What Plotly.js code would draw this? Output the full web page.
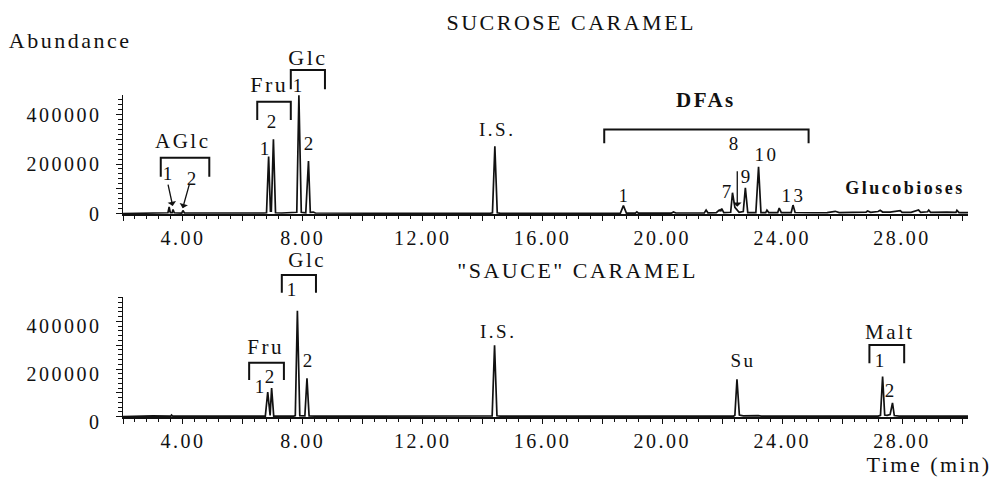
<!DOCTYPE html>
<html>
<head>
<meta charset="utf-8">
<script src="https://cdn.plot.ly/plotly-3.0.1.min.js"></script>
<style>
  html, body { margin: 0; padding: 0; background: #fff; }
</style>
</head>
<body>
<div id="chart" style="width:997px;height:477px;"></div>
<script>
// ---- DATA ----
// Sucrose caramel chromatogram: retention time (min) and abundance
const sucroseTime = [
  2.0, 3.0, 3.3, 3.45, 3.50, 3.54, 3.58, 3.64, 3.67, 3.71, 3.85, 3.96, 4.00, 4.05, 4.5, 5.0, 6.0,
  6.7, 6.79, 6.86, 6.92, 6.95, 7.02, 7.09, 7.3, 7.75, 7.80, 7.87, 7.95, 8.1, 8.19, 8.25, 8.35, 8.42,
  9.0, 10.0, 12.0, 14.25, 14.33, 14.41, 14.49, 14.6, 16.0, 18.0, 18.6, 18.7, 18.8, 19.1, 19.15, 19.2,
  20.3, 20.37, 20.45, 21.4, 21.46, 21.52, 21.8, 21.9, 21.95, 21.98, 22.05, 22.28, 22.34, 22.42, 22.49,
  22.56, 22.70, 22.77, 22.85, 23.12, 23.21, 23.29, 23.45, 23.49, 23.55, 23.85, 23.90, 23.97, 24.30,
  24.36, 24.43, 24.83, 25.0, 25.5, 25.77, 25.9, 26.3, 26.8, 26.85, 26.95, 27.2, 27.27, 27.35, 27.6,
  27.94, 28.0, 28.3, 28.55, 28.62, 28.85, 28.89, 28.95, 29.5, 29.8, 29.83, 29.9, 30.2
];
const sucroseAbund = [
  0, 0, 2000, 2500, 3000, 27000, 3000, 3000, 16000, 3000, 2000, 2000, 12000, 2500, 2000, 1500, 1500,
  2000, 3000, 230000, 10000, 10000, 300000, 3000, 2000, 2000, 5000, 478000, 5000, 3000, 212000, 5000, 6000, 2000,
  1500, 1000, 1000, 1000, 3000, 272000, 3000, 1000, 1000, 1000, 1500, 32000, 1500, 1500, 7000, 1500,
  1500, 6000, 2000, 2500, 14000, 3000, 3500, 14000, 11000, 20000, 4000, 5000, 84000, 25000, 16000,
  5000, 8000, 104000, 4000, 4000, 189000, 4000, 4000, 14000, 4000, 4000, 22000, 4000, 4000,
  34000, 4000, 5000, 3000, 3500, 9000, 4000, 5000, 6000, 10000, 5000, 8000, 13000, 6000, 6000,
  12000, 5000, 5000, 14000, 5000, 7000, 14000, 5000, 6000, 5000, 13000, 4000, 4000
];
// "Sauce" caramel chromatogram
const sauceTime = [
  2.0, 2.5, 3.0, 3.6, 3.62, 3.66, 4.2, 4.5, 5.0, 6.5, 6.75, 6.83, 6.89, 6.91, 6.96, 7.03, 7.7, 7.75,
  7.82, 7.90, 8.07, 8.14, 8.21, 8.4, 10.0, 14.25, 14.32, 14.40, 14.48, 14.6, 20.0, 22.38, 22.42,
  22.49, 22.57, 22.7, 23.2, 23.3, 27.2, 27.28, 27.35, 27.42, 27.5, 27.6, 27.68, 27.74, 27.9, 30.2
];
const sauceAbund = [
  0, 2000, 2500, 2000, 6000, 2000, 3000, 2000, 1500, 1500, 2000, 103000, 5000, 5000, 120000, 2000, 2000, 4000,
  445000, 4000, 3000, 161000, 3000, 2000, 1500, 1500, 3000, 300000, 3000, 1500, 1500, 2000, 5000,
  157000, 6000, 3000, 4000, 2000, 2000, 5000, 168000, 6000, 5000, 8000, 57000, 4000, 2000, 1500
];
// Tick labels
const xTickVals = [2, 4, 6, 8, 10, 12, 14, 16, 18, 20, 22, 24, 26, 28, 30];
const xTickText = ["", "4.00", "", "8.00", "", "12.00", "", "16.00", "", "20.00", "", "24.00", "", "28.00", ""];
const yTickVals = [0, 100000, 200000, 300000, 400000];
const yTickText = ["0", "", "200000", "", "400000"];

// ---- STYLE ----
const INK = '#111';
const SERIF = 'Liberation Serif';

function xAxis(anchor) {
  return {
    anchor: anchor, domain: [0, 1], range: [2, 30.2],
    showline: true, linecolor: INK, linewidth: 1.5, mirror: false,
    showgrid: false, zeroline: false,
    ticks: 'outside', ticklen: 5, tickwidth: 1, tickcolor: INK,
    tickmode: 'array', tickvals: xTickVals, ticktext: xTickText,
    tickfont: {family: SERIF, size: 20, color: INK},
    minor: {tickmode: 'linear', tick0: 0, dtick: 0.4, ticks: 'outside', ticklen: 3, tickwidth: 1, tickcolor: INK, showgrid: false},
    fixedrange: true
  };
}
function yAxis(anchor, domain, range, shift) {
  return {
    anchor: anchor, domain: domain, range: range,
    showline: true, linecolor: INK, linewidth: 1.5,
    showgrid: false, zeroline: false,
    ticks: 'outside', ticklen: 6, tickwidth: 1, tickcolor: INK,
    tickmode: 'array', tickvals: yTickVals, ticktext: yTickText,
    tickfont: {family: SERIF, size: 20, color: INK},
    ticklabelstandoff: 10, ticklabelshift: shift,
    minor: {tickmode: 'linear', tick0: 0, dtick: 20000, ticks: 'outside', ticklen: 4, tickwidth: 1, tickcolor: INK, showgrid: false},
    fixedrange: true
  };
}

const traces = [
  {x: sucroseTime, y: sucroseAbund, xaxis: 'x', yaxis: 'y', type: 'scatter', mode: 'lines',
   line: {color: INK, width: 1.7}, hoverinfo: 'skip'},
  {x: sauceTime, y: sauceAbund, xaxis: 'x2', yaxis: 'y2', type: 'scatter', mode: 'lines',
   line: {color: INK, width: 1.7}, hoverinfo: 'skip'}
];

function lab(xref, x, y, text, size, bold) {
  const f = {family: SERIF, size: size, color: INK};
  if (bold) f.weight = 'bold';
  return {xref: xref, yref: 'paper', x: x, y: y, text: text, showarrow: false,
          xanchor: 'center', yanchor: 'middle', font: f};
}
function arrow(xref, x, y, ax, ay) {
  return {xref: xref, yref: 'paper', x: x, y: y, text: '', showarrow: true,
          ax: ax, ay: ay, arrowhead: 1, arrowsize: 1.1, arrowwidth: 1.3, arrowcolor: INK, standoff: 0};
}
function bracket(xref, x1, x2, yTop, yBot) {
  return {type: 'path', xref: xref, yref: 'paper',
          path: `M ${x1},${yBot} L ${x1},${yTop} L ${x2},${yTop} L ${x2},${yBot}`,
          line: {color: INK, width: 2}};
}

const annotations = [
  // axis captions and subplot caption
  {xref: 'paper', yref: 'paper', x: -0.063, y: 1.169, text: 'Abundance', showarrow: false,
   xanchor: 'center', yanchor: 'middle', font: {family: SERIF, size: 22, color: INK}},
  {xref: 'paper', yref: 'paper', x: 1.015, y: -0.148, text: 'Time (min)', showarrow: false,
   xanchor: 'right', yanchor: 'middle', font: {family: SERIF, size: 22, color: INK}},
  {xref: 'paper', yref: 'paper', x: 0.538, y: 0.4565, text: '"SAUCE" CARAMEL', showarrow: false,
   xanchor: 'center', yanchor: 'middle', font: {family: SERIF, size: 22, color: INK}},
  // top chart labels
  lab('x', 4.01, 0.856, 'AGlc', 21),
  lab('x', 3.53, 0.755, '1', 19),
  lab('x', 4.32, 0.742, '2', 19),
  arrow('x', 3.66, 0.655, -5, -23),
  arrow('x', 3.99, 0.648, 7, -25),
  lab('x', 6.9, 1.032, 'Fru', 22),
  lab('x', 7.0, 0.919, '2', 19),
  lab('x', 6.76, 0.835, '1', 19),
  lab('x', 8.19, 1.116, 'Glc', 22),
  lab('x', 7.88, 1.028, '1', 19),
  lab('x', 8.24, 0.848, '2', 19),
  lab('x', 14.47, 0.894, 'I.S.', 19),
  lab('x', 18.72, 0.686, '1', 18),
  lab('x', 21.46, 0.984, 'DFAs', 21, true),
  lab('x', 22.43, 0.850, '8', 19),
  arrow('x', 22.5, 0.653, 0, -37),
  lab('x', 23.49, 0.814, '10', 19),
  lab('x', 22.82, 0.746, '9', 19),
  lab('x', 22.19, 0.700, '7', 19),
  lab('x', 24.38, 0.689, '13', 19),
  lab('x', 28.1, 0.711, 'Glucobioses', 18, true),
  // bottom chart labels
  lab('x2', 8.13, 0.4876, 'Glc', 21),
  lab('x2', 7.68, 0.3975, '1', 19),
  lab('x2', 8.22, 0.174, '2', 19),
  lab('x2', 6.76, 0.218, 'Fru', 21),
  lab('x2', 6.62, 0.094, '1', 19),
  lab('x2', 6.95, 0.125, '2', 19),
  lab('x2', 14.51, 0.265, 'I.S.', 19),
  lab('x2', 22.71, 0.1745, 'Su', 19),
  lab('x2', 27.6, 0.265, 'Malt', 21),
  lab('x2', 27.3, 0.174, '1', 19),
  lab('x2', 27.62, 0.081, '2', 19)
];

const shapes = [
  bracket('x', 3.26, 4.88, 0.805, 0.746),
  bracket('x', 6.48, 7.60, 0.979, 0.922),
  bracket('x', 7.60, 8.74, 1.078, 1.018),
  bracket('x', 18.06, 24.88, 0.893, 0.850),
  bracket('x2', 7.30, 8.44, 0.441, 0.386),
  bracket('x2', 6.21, 7.37, 0.1687, 0.115),
  bracket('x2', 26.91, 28.07, 0.2236, 0.1667)
];

const layout = {
  width: 997, height: 477,
  margin: {l: 123, r: 29, t: 95, b: 60},
  paper_bgcolor: '#fff', plot_bgcolor: '#fff',
  showlegend: false,
  title: {text: 'SUCROSE CARAMEL', x: 0.573, xanchor: 'center', y: 0.953, yanchor: 'middle',
          font: {family: SERIF, size: 22, color: INK}},
  xaxis: xAxis('y'),
  yaxis: yAxis('x', [0.6304, 1], [-2000, 479000], 0),
  xaxis2: xAxis('y2'),
  yaxis2: yAxis('x2', [0, 0.3727], [-2000, 503000], 5),
  annotations: annotations,
  shapes: shapes
};

Plotly.newPlot('chart', traces, layout, {staticPlot: true, displayModeBar: false}).then(function () {
  // widen letter spacing like the scanned original
  document.querySelectorAll('#chart svg text').forEach(function (t) {
    t.style.letterSpacing = '2.5px';
  });
});
</script>
</body>
</html>
